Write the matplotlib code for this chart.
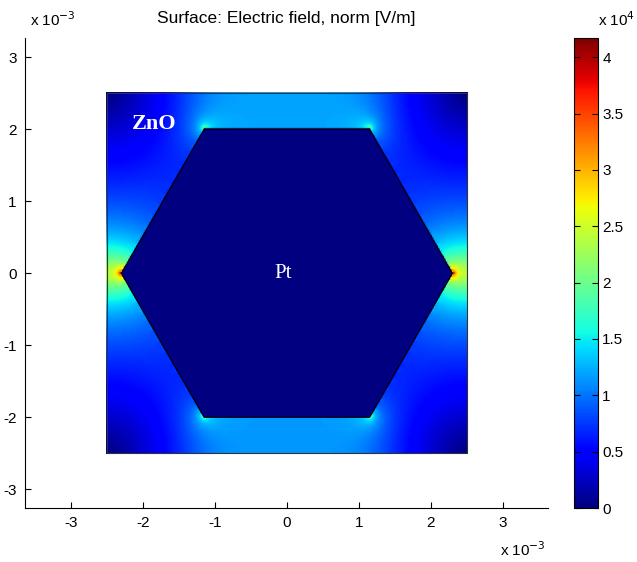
import numpy as np
import matplotlib.pyplot as plt
from matplotlib.path import Path
from matplotlib.patches import Polygon, Rectangle

# geometry (metres)
domain_half = 2.5e-3
hex_x = [2.3e-3, 1.15e-3, -1.15e-3, -2.3e-3, -1.15e-3, 1.15e-3]
hex_y = [0.0, 2.0e-3, 2.0e-3, 0.0, -2.0e-3, -2.0e-3]
pt_potential = 6.0      # V on the Pt hexagon, outer square grounded
field_max = 4.17e4      # top of colour bar, V/m

axis_ticks = [-3, -2, -1, 0, 1, 2, 3]
cbar_ticks = [0, 0.5, 1, 1.5, 2, 2.5, 3, 3.5, 4]
cbar_labels = ["0", "0.5", "1", "1.5", "2", "2.5", "3", "3.5", "4"]

# solve Laplace equation on the square (red-black SOR)
n = 241
xs = np.linspace(-domain_half, domain_half, n)
X, Y = np.meshgrid(xs, xs)
h = xs[1] - xs[0]
hexagon = Path(np.column_stack([hex_x, hex_y]))
inside = hexagon.contains_points(np.column_stack([X.ravel(), Y.ravel()])).reshape(n, n)

phi = np.zeros((n, n))
phi[inside] = pt_potential
free = ~inside
free[0, :] = free[-1, :] = free[:, 0] = free[:, -1] = False
ii, jj = np.indices((n, n))
red = (free & ((ii + jj) % 2 == 0)).astype(float)
black = (free & ((ii + jj) % 2 == 1)).astype(float)
omega = 2 / (1 + np.sin(np.pi / n))
avg = np.zeros_like(phi)
for it in range(1200):
    for m in (red, black):
        avg[1:-1, 1:-1] = 0.25 * (phi[:-2, 1:-1] + phi[2:, 1:-1] + phi[1:-1, :-2] + phi[1:-1, 2:])
        phi += omega * (avg - phi) * m

Ey, Ex = np.gradient(phi, h)
E = np.hypot(Ex, Ey)
E[inside] = 0

plt.rcParams['font.family'] = ['Liberation Sans', 'DejaVu Sans']
fig = plt.figure(figsize=(6.37, 5.62), dpi=100)
ax = fig.add_axes([25 / 637, 1 - 508 / 562, 523 / 637, 470 / 562])
im = ax.imshow(E, origin='lower', cmap='jet', vmin=0, vmax=field_max,
               extent=[-domain_half - h / 2, domain_half + h / 2, -domain_half - h / 2, domain_half + h / 2],
               interpolation='bilinear')
ax.add_patch(Polygon(np.column_stack([hex_x, hex_y]), closed=True, facecolor=plt.cm.jet(0.0),
                     edgecolor='black', lw=0.8, zorder=3))
ax.add_patch(Rectangle((-domain_half, -domain_half), 2 * domain_half, 2 * domain_half,
                       fill=False, edgecolor='#333333', lw=0.8, zorder=4))
ax.set_xlim(-3.64e-3, 3.63e-3)
ax.set_ylim(-3.26e-3, 3.27e-3)
ax.set_aspect('auto')
ax.set_xticks([t * 1e-3 for t in axis_ticks])
ax.set_xticklabels([str(t) for t in axis_ticks])
ax.set_yticks([t * 1e-3 for t in axis_ticks])
ax.set_yticklabels([str(t) for t in axis_ticks])
ax.tick_params(direction='in', length=4, labelsize=11, pad=6)
ax.spines['top'].set_visible(False)
ax.spines['right'].set_visible(False)

ax.text(-1.85e-3, 2.08e-3, "ZnO", color='white', fontsize=16, fontweight='bold',
        family='Liberation Serif', ha='center', va='center')
ax.text(-0.05e-3, 0.0, "Pt", color='white', fontsize=15, family='Liberation Serif',
        ha='center', va='center')

fig.text(286 / 637, 1 - 19 / 562, "Surface: Electric field, norm [V/m]", ha='center', va='center', fontsize=12.5)
fig.text(30 / 637, 1 - 20 / 562, "x 10$^{-3}$", ha='left', va='center', fontsize=11)
fig.text(500 / 637, 1 - 550 / 562, "x 10$^{-3}$", ha='left', va='center', fontsize=11)
fig.text(598 / 637, 1 - 20 / 562, "x 10$^{4}$", ha='left', va='center', fontsize=11)

cax = fig.add_axes([574 / 637, 1 - 508 / 562, 24 / 637, 470 / 562])
cb = fig.colorbar(im, cax=cax)
cb.set_ticks([t * 1e4 for t in cbar_ticks])
cb.set_ticklabels(cbar_labels)
cax.tick_params(direction='in', length=4, labelsize=11, left=True, right=True, pad=3)
cb.outline.set_linewidth(0.8)

fig.savefig("out.png", dpi=100)
